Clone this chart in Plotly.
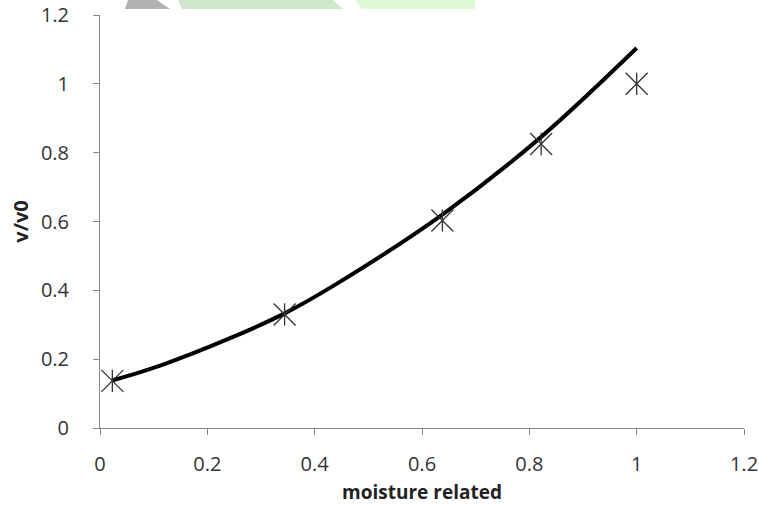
import plotly.graph_objects as go

# observed points (asterisk markers)
x_obs = [0.023, 0.344, 0.638, 0.822, 1.0]
y_obs = [0.137, 0.330, 0.603, 0.825, 1.0]

# fitted curve
curve_x = [0.022, 0.115, 0.238, 0.344, 0.44, 0.638, 0.82, 1.0]
curve_y = [0.138, 0.183, 0.258, 0.333, 0.418, 0.620, 0.843, 1.104]

tick_vals = [0, 0.2, 0.4, 0.6, 0.8, 1.0, 1.2]
tick_text = ["0", "0.2", "0.4", "0.6", "0.8", "1", "1.2"]

W, H = 759, 505
L, R, T, B = 100, 15, 15, 77
PW, PH = W - L - R, H - T - B

fig = go.Figure()
fig.add_trace(go.Scatter(x=curve_x, y=curve_y, mode="lines",
                         line=dict(color="black", width=4, shape="spline", smoothing=1.0),
                         hoverinfo="skip", showlegend=False))
fig.add_trace(go.Scatter(x=x_obs, y=y_obs, mode="markers",
                         marker=dict(symbol="x-thin-open", size=22, color="#333333",
                                     line=dict(color="#333333", width=1.3)),
                         showlegend=False))
fig.add_trace(go.Scatter(x=x_obs, y=y_obs, mode="markers",
                         marker=dict(symbol="line-ns-open", size=16, color="#333333",
                                     line=dict(color="#333333", width=1.3)),
                         showlegend=False))

def px2paper(px, py):
    return (px - L) / PW, 1 + (T - py) / PH

def poly(pts, color):
    p = [px2paper(a, b) for a, b in pts]
    path = "M " + " L ".join(f"{a:.4f},{b:.4f}" for a, b in p) + " Z"
    return dict(type="path", xref="paper", yref="paper", path=path,
                fillcolor=color, line=dict(width=0), layer="below")

shapes = [
    poly([(128, 0), (157, 0), (170, 9), (125, 9)], "#b0b2b4"),
    poly([(178, 0), (333, 0), (343, 9), (182, 9)], "#cfe8cc"),
    poly([(355, 0), (475, 0), (475, 9), (362, 9)], "#ddf8d6"),
]

axis_common = dict(
    range=[0, 1.2], tickvals=tick_vals, ticktext=tick_text, automargin=False,
    showgrid=False, zeroline=False, showline=True, linecolor="#868686", linewidth=1,
    ticks="outside", ticklen=6, tickcolor="#868686", tickwidth=1,
    tickfont=dict(family="Open Sans", size=20, color="#333333"),
)

fig.update_layout(
    width=W, height=H,
    margin=dict(l=L, r=R, t=T, b=B),
    paper_bgcolor="white", plot_bgcolor="white",
    shapes=shapes,
    xaxis=dict(**axis_common, ticklabelstandoff=12,
               title=dict(text="<b>moisture related</b>", standoff=19,
                          font=dict(family="Open Sans", size=19, color="#222222"))),
    yaxis=dict(**axis_common, ticklabelstandoff=20,
               title=dict(text="<b>v/v0</b>", standoff=6,
                          font=dict(family="Open Sans", size=20, color="#222222"))),
)

fig.write_html("out.html")
